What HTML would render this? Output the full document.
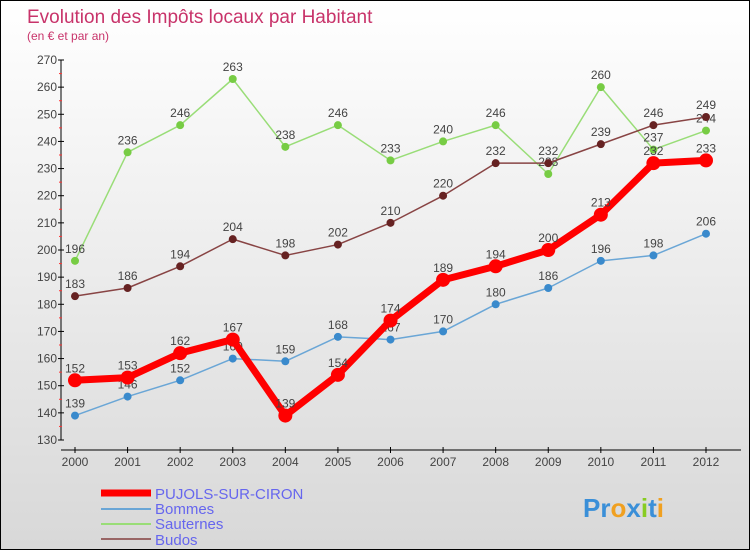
<!DOCTYPE html>
<html><head><meta charset="utf-8"><style>
body{margin:0}
#c{width:750px;height:550px;position:relative;box-sizing:border-box;border:1px solid #000;background:linear-gradient(#fff,#d8d8d8);font-family:"Liberation Sans",sans-serif;overflow:hidden}
</style></head><body>
<div id="c">
<svg id="s" width="748" height="548">
<text x="26" y="22" font-size="19" fill="#c8336a">Evolution des Impôts locaux par Habitant</text>
<text x="26" y="39" font-size="12" fill="#c8336a">(en € et par an)</text>
<g id="ax"></g><g id="ser"></g>
<g>
<line x1="100" y1="492" x2="150" y2="492" stroke="#f00" stroke-width="7"/>
<text x="154" y="498" font-size="15" fill="#6666ee">PUJOLS-SUR-CIRON</text>
<line x1="100" y1="508" x2="150" y2="508" stroke="#6aa6d6" stroke-width="2"/>
<text x="154" y="513" font-size="15" fill="#6666ee">Bommes</text>
<line x1="100" y1="523" x2="150" y2="523" stroke="#99dd77" stroke-width="2"/>
<text x="154" y="528" font-size="15" fill="#6666ee">Sauternes</text>
<line x1="100" y1="538" x2="150" y2="538" stroke="#996666" stroke-width="2"/>
<text x="154" y="544" font-size="15" fill="#6666ee">Budos</text>
</g>
<text x="582" y="516" font-size="26" font-weight="bold"><tspan fill="#3a8fd8">Pr</tspan><tspan fill="#f0a020">o</tspan><tspan fill="#3a8fd8">x</tspan><tspan fill="#88cc22">i</tspan><tspan fill="#3a8fd8">t</tspan><tspan fill="#f0a020">i</tspan></text>
</svg></div>
<script>
const years=[2000,2001,2002,2003,2004,2005,2006,2007,2008,2009,2010,2011,2012];
const yTicks=[130,140,150,160,170,180,190,200,210,220,230,240,250,260,270];
const pujols=[152,153,162,167,139,154,174,189,194,200,213,232,233];
const bommes=[139,146,152,160,159,168,167,170,180,186,196,198,206];
const sauternes=[196,236,246,263,238,246,233,240,246,228,260,237,244];
const budos=[183,186,194,204,198,202,210,220,232,232,239,246,249];
const NS="http://www.w3.org/2000/svg";
function X(i){return 74+i*(705-74)/(years.length-1);}
function Y(v){return 439-(v-130)*(380/140);}
function mk(t,a,p){const e=document.createElementNS(NS,t);for(const k in a)e.setAttribute(k,a[k]);p.appendChild(e);return e;}
const ax=document.getElementById('ax');
let l=mk('line',{x1:60,y1:Y(270),x2:60,y2:Y(130),stroke:'#000'},ax);

l=mk('line',{x1:60,y1:449,x2:740,y2:449,stroke:'#000'},ax);

yTicks.forEach((v,i)=>{
 mk('line',{x1:57,y1:Y(v),x2:63,y2:Y(v),stroke:'#000'},ax);
 if(i<yTicks.length-1)mk('line',{x1:58,y1:Y(v+5),x2:61,y2:Y(v+5),stroke:'#f33'},ax);
 const t=mk('text',{x:56,y:Y(v)+4,'font-size':12,fill:'#444','text-anchor':'end'},ax);t.textContent=v;
 
});
years.forEach((y,i)=>{
 mk('line',{x1:X(i),y1:446,x2:X(i),y2:452,stroke:'#000'},ax);
 const t=mk('text',{x:X(i),y:465,'font-size':12,fill:'#444','text-anchor':'middle'},ax);t.textContent=y;
 
});
const ser=document.getElementById('ser');
function draw(d,name,col,dot,w,r){
 const g=mk('g',{},ser);
 
 const p=mk('polyline',{points:d.map((v,i)=>X(i)+','+Y(v)).join(' '),fill:'none',stroke:col,'stroke-width':w,'stroke-linejoin':'round'},g);
 
 d.forEach((v,i)=>{
  const c=mk('circle',{cx:X(i),cy:Y(v),r:r,fill:dot},g);
  
  const t=mk('text',{x:X(i),y:Y(v)-8,'font-size':12,fill:'#444','text-anchor':'middle'},g);t.textContent=v;
  
 });
}
draw(bommes,'bommes','#6aa6d6','#3a8acc',1.5,4);
draw(sauternes,'sauternes','#99dd77','#77cc44',1.5,4);
draw(budos,'budos','#884444','#662222',1.5,4);
draw(pujols,'pujols','#f00','#f00',7,7);
</script>
</body></html>
